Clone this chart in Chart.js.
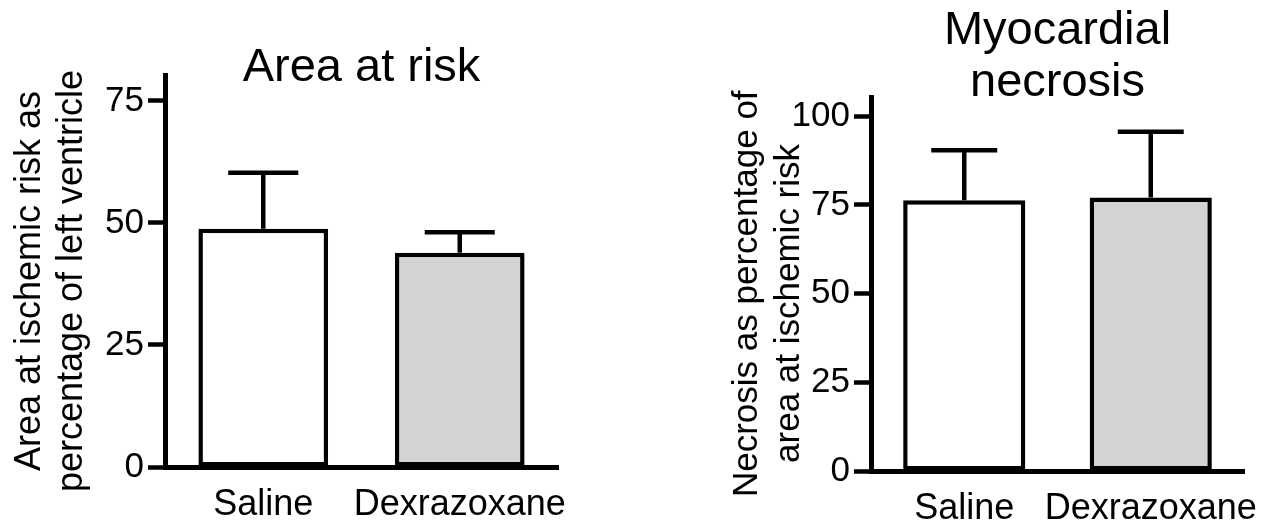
<!DOCTYPE html>
<html>
<head>
<meta charset="utf-8">
<script src="https://cdn.jsdelivr.net/npm/chart.js@4.4.0/dist/chart.umd.min.js"></script>
<style>
html, body { margin: 0; padding: 0; background: #fff; }
#wrap { position: relative; width: 1278px; height: 523px; overflow: hidden; }
canvas { position: absolute; top: 0; }
#riskChart { left: 0; }
#necrosisChart { left: 700px; }
</style>
</head>
<body>
<div id="wrap">
  <canvas id="riskChart" width="640" height="523"></canvas>
  <canvas id="necrosisChart" width="610" height="523"></canvas>
</div>
<script>
// groups and values (mean + upper SEM)
var groups = ['Saline', 'Dexrazoxane'];
var riskMean = [48.8, 43.9];
var riskErr = [11.5, 4.2];
var necrosisMean = [76.3, 77.1];
var necrosisErr = [14.1, 18.5];
var riskTicks = [0, 25, 50, 75];
var necrosisTicks = [0, 25, 50, 75, 100];
var barColors = ['#ffffff', '#d3d3d3'];

Chart.defaults.font.family = "'Liberation Sans', Arial, Helvetica, sans-serif";
Chart.defaults.color = '#000';

// one-sided error bars on top of each bar
var errorBars = {
    id: 'errorBars',
    afterDatasetsDraw: function (chart, args, opts) {
        var ctx = chart.ctx;
        var yScale = chart.scales.y;
        var ds = chart.data.datasets[0];
        var meta = chart.getDatasetMeta(0);
        ctx.save();
        ctx.strokeStyle = '#000';
        ctx.lineWidth = 4.5;
        meta.data.forEach(function (bar, i) {
            var top = yScale.getPixelForValue(ds.data[i] + opts.errors[i]);
            var half = bar.width * 0.27;
            ctx.beginPath();
            ctx.moveTo(bar.x, bar.y);
            ctx.lineTo(bar.x, top);
            ctx.moveTo(bar.x - half, top);
            ctx.lineTo(bar.x + half, top);
            ctx.stroke();
        });
        ctx.restore();
    }
};

function makeChart(id, cfg) {
    return new Chart(document.getElementById(id), {
        type: 'bar',
        data: {
            labels: groups,
            datasets: [{
                data: cfg.mean,
                backgroundColor: barColors,
                borderColor: '#000',
                borderWidth: 4.5,
                borderSkipped: false,
                categoryPercentage: 1,
                barPercentage: cfg.barPct
            }]
        },
        plugins: [errorBars],
        options: {
            responsive: false,
            animation: false,
            layout: { padding: { left: 0, right: cfg.padRight, top: 0, bottom: 0 } },
            plugins: {
                legend: { display: false },
                tooltip: { enabled: false },
                title: {
                    display: true,
                    text: cfg.title,
                    fullSize: false,
                    color: '#000',
                    font: { size: 47, weight: 'normal', lineHeight: '52px' },
                    padding: cfg.titlePad
                },
                errorBars: { errors: cfg.err }
            },
            scales: {
                x: {
                    grid: { display: false, drawTicks: false },
                    border: { display: true, color: '#000', width: 5 },
                    ticks: { color: '#000', font: { size: 36 }, padding: 16, maxRotation: 0, minRotation: 0, autoSkip: false },
                    afterFit: function (s) { s.height = cfg.xHeight; }
                },
                y: {
                    min: 0,
                    max: cfg.max,
                    afterBuildTicks: function (s) {
                        s.ticks = cfg.ticks.map(function (v) { return { value: v }; });
                    },
                    grid: { drawOnChartArea: false, drawTicks: true, tickLength: 17, tickWidth: 4.5, tickColor: '#000' },
                    border: { display: true, color: '#000', width: 5 },
                    ticks: { color: '#000', font: { size: 35 }, padding: 4 },
                    title: {
                        display: true,
                        text: cfg.yTitle,
                        color: '#000',
                        font: { size: cfg.yTitleSize, lineHeight: '42px' },
                        padding: { top: cfg.yTitleTop, bottom: 0 }
                    },
                    afterFit: function (s) { s.width = cfg.yWidth; }
                }
            }
        }
    });
}

makeChart('riskChart', {
    mean: riskMean, err: riskErr, ticks: riskTicks, max: 80.3,
    title: 'Area at risk', titlePad: { top: 42, bottom: -19 },
    yTitle: ['Area at ischemic risk as  ', 'percentage of left ventricle  '], yTitleTop: 9, yTitleSize: 36,
    yWidth: 165, padRight: 82, xHeight: 56, barPct: 0.66
});

makeChart('necrosisChart', {
    mean: necrosisMean, err: necrosisErr, ticks: necrosisTicks, max: 105.4,
    title: ['Myocardial', 'necrosis'], titlePad: { top: 5, bottom: -12 },
    yTitle: ['Necrosis as percentage of  ', 'area at ischemic risk    '], yTitleTop: 26, yTitleSize: 35,
    yWidth: 171, padRight: 66, xHeight: 52, barPct: 0.655
});
</script>
</body>
</html>
